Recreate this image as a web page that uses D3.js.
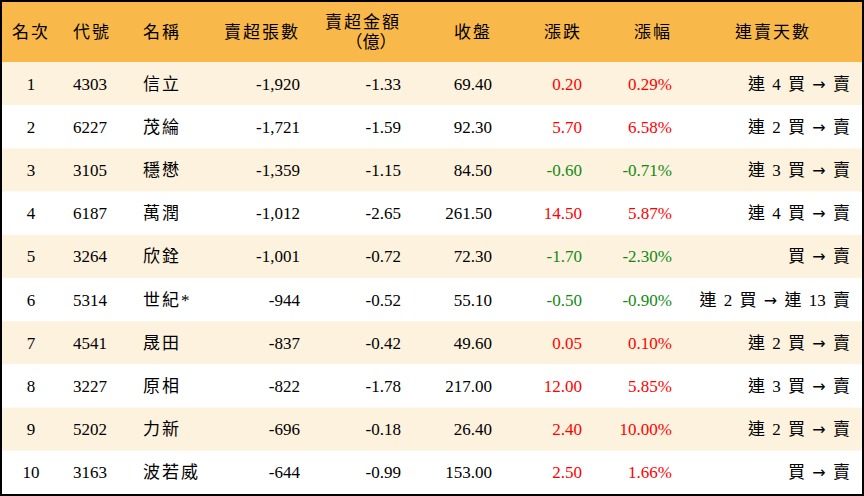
<!DOCTYPE html>
<html><head><meta charset="utf-8">
<script src="https://cdn.jsdelivr.net/npm/d3@7"></script>
<style>body{margin:0;background:#fff}</style>
</head><body><div id="chart"></div>
<script>
const ranks = [1,2,3,4,5,6,7,8,9,10];
const codes = ["4303","6227","3105","6187","3264","5314","4541","3227","5202","3163"];
const names = ["信立","茂綸","穩懋","萬潤","欣銓","世紀*","晟田","原相","力新","波若威"];
const netSell = ["-1,920","-1,721","-1,359","-1,012","-1,001","-944","-837","-822","-696","-644"];
const amount = ["-1.33","-1.59","-1.15","-2.65","-0.72","-0.52","-0.42","-1.78","-0.18","-0.99"];
const closes = ["69.40","92.30","84.50","261.50","72.30","55.10","49.60","217.00","26.40","153.00"];
const changes = [0.20,5.70,-0.60,14.50,-1.70,-0.50,0.05,12.00,2.40,2.50];
const pcts = [0.29,6.58,-0.71,5.87,-2.30,-0.90,0.10,5.85,10.00,1.66];
const streaks = ["連 4 買 → 賣","連 2 買 → 賣","連 3 買 → 賣","連 4 買 → 賣","買 → 賣","連 2 買 → 連 13 賣","連 2 買 → 賣","連 3 買 → 賣","連 2 買 → 賣","買 → 賣"];

const W = 864, H = 496, headH = 62;
const font = "'Liberation Serif','Noto Sans CJK TC',serif";
const svg = d3.select("#chart").append("svg").attr("width", W).attr("height", H)
  .style("font-family", font);

const y = d3.scaleBand().domain(ranks).range([headH, H - 2]);

svg.append("rect").attr("x", 0).attr("y", 0).attr("width", W).attr("height", headH).attr("fill", "#f9b84a");
svg.selectAll("rect.row").data(ranks).join("rect").attr("class", "row")
  .attr("x", 0).attr("y", d => y(d)).attr("width", W).attr("height", y.bandwidth())
  .attr("fill", (d, i) => i % 2 === 0 ? "#fdf2de" : "#ffffff");
svg.append("rect").attr("x", 1).attr("y", 1).attr("width", W - 2).attr("height", H - 2)
  .attr("fill", "none").attr("stroke", "#000").attr("stroke-width", 2);

const col = (v) => v > 0 ? "#ff0000" : v < 0 ? "#138a13" : "#000";
const fmtPct = (v) => d3.format(".2f")(v).replace("−", "-");

const columns = [
  {head: ["名次"], x: 31, anchor: "middle", hx: 31, ha: "middle", val: (i) => ranks[i]},
  {head: ["代號"], x: 73, anchor: "start", hx: 73, ha: "start", val: (i) => codes[i]},
  {head: ["名稱"], x: 143, anchor: "start", hx: 143, ha: "start", val: (i) => names[i], cjk: true},
  {head: ["賣超張數"], x: 300, anchor: "end", hx: 300, ha: "end", val: (i) => netSell[i]},
  {head: ["賣超金額", "（億）"], x: 401, anchor: "end", hx: 401, ha: "end", val: (i) => amount[i]},
  {head: ["收盤"], x: 492, anchor: "end", hx: 492, ha: "end", val: (i) => closes[i]},
  {head: ["漲跌"], x: 582, anchor: "end", hx: 582, ha: "end", val: (i) => fmtPct(changes[i]), color: (i) => col(changes[i])},
  {head: ["漲幅"], x: 672, anchor: "end", hx: 672, ha: "end", val: (i) => fmtPct(pcts[i]) + "%", color: (i) => col(pcts[i])},
  {head: ["連賣天數"], x: 850, anchor: "end", hx: 773, ha: "middle", val: (i) => streaks[i], streak: true}
];

columns.forEach(c => {
  const t = svg.append("text").attr("x", c.hx).attr("text-anchor", c.ha)
    .attr("font-size", 17).attr("fill", "#000");
  if (c.head.length === 1) {
    t.attr("y", 38).style("letter-spacing", "2px").text(c.head[0]);
  } else {
    t.append("tspan").attr("x", c.hx).attr("y", 28).style("letter-spacing", "2px").text(c.head[0]);
    t.append("tspan").attr("x", c.hx - 30).attr("y", 48).attr("text-anchor", "middle").text(c.head[1]);
  }
  const cells = svg.selectAll(null).data(ranks).join("text")
    .attr("x", c.x).attr("y", d => y(d) + y.bandwidth() / 2 + 6)
    .attr("text-anchor", c.anchor).attr("font-size", 17)
    .style("letter-spacing", c.cjk ? "2px" : null)
    .attr("fill", (d, i) => c.color ? c.color(i) : "#000");
  if (c.streak) {
    cells.style("word-spacing", "3px").each(function(d, i) {
      const parts = c.val(i).split("→");
      const s = d3.select(this);
      s.append("tspan").text(parts[0]);
      s.append("tspan").style("font-family", "'DejaVu Sans'").attr("font-size", 16).text("→");
      s.append("tspan").text(parts[1]);
    });
  } else {
    cells.text((d, i) => c.val(i));
  }
});
</script></body></html>
